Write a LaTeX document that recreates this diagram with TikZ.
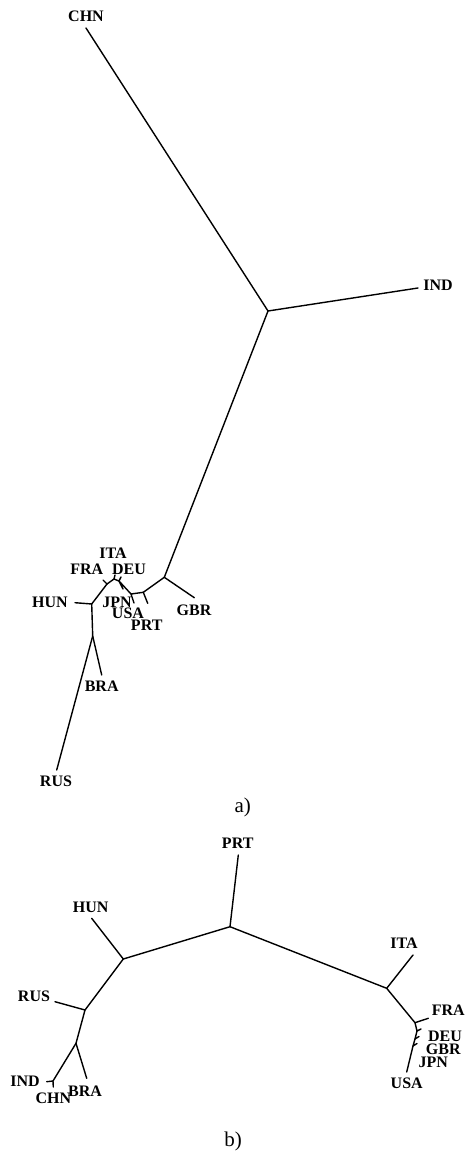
\documentclass[tikz,border=0pt]{standalone}
\usepackage{fontspec}
\setmainfont{Liberation Serif}
\tikzset{
  br/.style={line width=1.4pt, line cap=round, line join=round},
  lab/.style={inner sep=0pt, font=\fontsize{16}{16}\selectfont\bfseries},
  captxt/.style={inner sep=0pt, font=\fontsize{21}{21}\selectfont},
}
\begin{document}
\begin{tikzpicture}[x=1pt,y=-1pt]
\useasboundingbox (0,0) rectangle (466,1158);
% ---------- tree a ----------
\coordinate (aCHN) at (86,28);
\coordinate (aJ0) at (268,311);
\coordinate (aIND) at (418,288);
\coordinate (aJ1) at (164.3,577.3);
\coordinate (aGBR) at (194.3,597.7);
\coordinate (aJ2) at (143.3,592.3);
\coordinate (aPRT) at (147.7,603.3);
\coordinate (aJ3) at (131,594);
\coordinate (aUSA) at (134,603);
\coordinate (aJ4) at (119,581);
\coordinate (aJPN) at (123,589);
\coordinate (aDEU) at (121,577);
\coordinate (aJ5) at (114,579);
\coordinate (aITA) at (115,575);
\coordinate (aJ6) at (107,584);
\coordinate (aFRA) at (103,580);
\coordinate (aJH) at (91.7,604);
\coordinate (aHUN) at (75,602.7);
\coordinate (aJB) at (92.7,636);
\coordinate (aBRA) at (101.7,675);
\coordinate (aRUS) at (56.7,770);
\draw[br] (aCHN) -- (aJ0) -- (aIND);
\draw[br] (aJ0) -- (aJ1) -- (aGBR);
\draw[br] (aJ1) -- (aJ2) -- (aPRT);
\draw[br] (aJ2) -- (aJ3) -- (aUSA);
\draw[br] (aJ3) -- (aJ4) -- (aJPN);
\draw[br] (aJ4) -- (aDEU);
\draw[br] (aJ4) -- (aJ5) -- (aITA);
\draw[br] (aJ5) -- (aJ6) -- (aFRA);
\draw[br] (aJ6) -- (aJH) -- (aHUN);
\draw[br] (aJH) -- (aJB) -- (aBRA);
\draw[br] (aJB) -- (aRUS);
\node[lab] (tCHN) at (86,16) {CHN};
\node[lab] (tIND) at (438,285) {IND};
\node[lab] (tGBR) at (194,610) {GBR};
\node[lab] (tPRT) at (146.7,625) {PRT};
\node[lab] (tUSA) at (128,613) {USA};
\node[lab] (tJPN) at (117,602) {JPN};
\node[lab] (tDEU) at (129,569) {DEU};
\node[lab] (tFRA) at (86.7,569) {FRA};
\node[lab] (tITA) at (113,553) {ITA};
\node[lab] (tHUN) at (50,602) {HUN};
\node[lab] (tBRA) at (101.7,686) {BRA};
\node[lab] (tRUS) at (56,781.7) {RUS};
\node[captxt] (capa) at (242.7,807.3) {a)};
% ---------- tree b ----------
\coordinate (bPRT) at (238.3,855);
\coordinate (bJP) at (230,926.7);
\coordinate (bJH) at (123.3,959);
\coordinate (bHUN) at (91.7,918.3);
\coordinate (bJR) at (85,1010);
\coordinate (bRUS) at (55,1001.7);
\coordinate (bJB) at (76,1043.3);
\coordinate (bBRA) at (86.7,1078.3);
\coordinate (bJIC) at (53,1081);
\coordinate (bIND) at (46.7,1081.7);
\coordinate (bCHN) at (53.3,1087);
\coordinate (bJI) at (386.7,988.3);
\coordinate (bITA) at (413,955);
\coordinate (bJF) at (415,1022.7);
\coordinate (bFRA) at (428.3,1018.3);
\coordinate (bK1) at (417,1031);
\coordinate (bDEU) at (421,1029);
\coordinate (bK2) at (415,1039);
\coordinate (bGBR) at (419,1036.5);
\coordinate (bK3) at (413,1046);
\coordinate (bJPN) at (417,1043.5);
\coordinate (bUSA) at (406.7,1072);
\draw[br] (bPRT) -- (bJP) -- (bJH) -- (bHUN);
\draw[br] (bJH) -- (bJR) -- (bRUS);
\draw[br] (bJR) -- (bJB) -- (bBRA);
\draw[br] (bJB) -- (bJIC) -- (bIND);
\draw[br] (bJIC) -- (bCHN);
\draw[br] (bJP) -- (bJI) -- (bITA);
\draw[br] (bJI) -- (bJF) -- (bFRA);
\draw[br] (bJF) -- (bK1) -- (bDEU);
\draw[br] (bK1) -- (bK2) -- (bGBR);
\draw[br] (bK2) -- (bK3) -- (bJPN);
\draw[br] (bK3) -- (bUSA);
\node[lab] (uPRT) at (237.7,843.3) {PRT};
\node[lab] (uHUN) at (90.7,907.3) {HUN};
\node[lab] (uRUS) at (34,996) {RUS};
\node[lab] (uIND) at (25,1081.7) {IND};
\node[lab] (uCHN) at (53.3,1098.3) {CHN};
\node[lab] (uBRA) at (85,1091.7) {BRA};
\node[lab] (uITA) at (404,943) {ITA};
\node[lab] (uFRA) at (448.3,1010.7) {FRA};
\node[lab] (uDEU) at (445,1036) {DEU};
\node[lab] (uGBR) at (443.3,1048.8) {GBR};
\node[lab] (uJPN) at (433.3,1062) {JPN};
\node[lab] (uUSA) at (406.7,1083.3) {USA};
\node[captxt] (capb) at (233,1141) {b)};
\end{tikzpicture}
\end{document}
